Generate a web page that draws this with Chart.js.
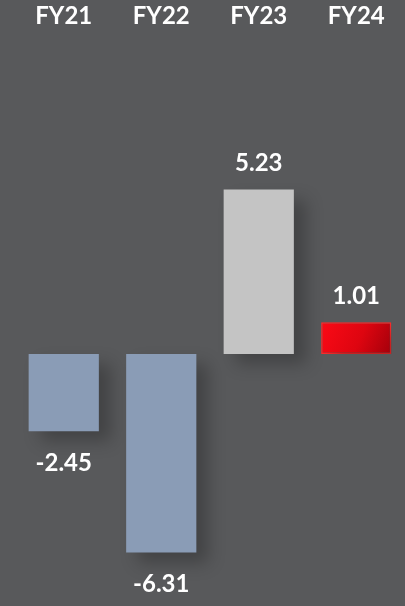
<!DOCTYPE html>
<html>
<head>
<meta charset="utf-8">
<script src="https://cdn.jsdelivr.net/npm/chart.js@4.4.1/dist/chart.umd.min.js"></script>
<style>
  html, body { margin: 0; padding: 0; background: #58595b; }
  #wrap { width: 405px; height: 606px; position: relative; }
</style>
</head>
<body>
<div id="wrap"><canvas id="chart"></canvas></div>
<script>
var years = ['FY21', 'FY22', 'FY23', 'FY24'];
var values = [-2.45, -6.31, 5.23, 1.01];
var valueLabels = ['-2.45', '-6.31', '5.23', '1.01'];

var ctx = document.getElementById('chart').getContext('2d');

function barColor(c) {
  var i = c.dataIndex;
  if (i == 2) return '#c4c4c4';
  if (i == 3) {
    var chart = c.chart;
    if (!chart.chartArea) return '#e8000e';
    var x = chart.scales.x.getPixelForValue(3);
    var y0 = chart.scales.y.getPixelForValue(0);
    var y1 = chart.scales.y.getPixelForValue(values[3]);
    var g = chart.ctx.createLinearGradient(x - 35, y1, x + 35, y0);
    g.addColorStop(0, '#fb0a16');
    g.addColorStop(0.55, '#de0510');
    g.addColorStop(1, '#a3000b');
    return g;
  }
  return '#8a9cb6';
}

// soft shadow behind the bars
var barShadow = {
  id: 'barShadow',
  beforeDatasetsDraw: function (chart) {
    var c = chart.ctx;
    c.save();
    c.shadowColor = 'rgba(0,0,0,0.25)';
    c.shadowBlur = 16;
    c.shadowOffsetX = 12;
    c.shadowOffsetY = 10;
  },
  afterDatasetsDraw: function (chart) {
    chart.ctx.restore();
  }
};

// value labels above / below the bars
var valueText = {
  id: 'valueText',
  afterDatasetsDraw: function (chart) {
    var c = chart.ctx;
    var meta = chart.getDatasetMeta(0);
    c.save();
    c.font = 'bold 24px Lato';
    c.fillStyle = '#ffffff';
    c.textAlign = 'center';
    c.textBaseline = 'middle';
    meta.data.forEach(function (bar, i) {
      var y = values[i] >= 0 ? bar.y - 26 : bar.y + 32;
      c.fillText(valueLabels[i], bar.x, y);
    });
    c.restore();
  }
};

new Chart(ctx, {
  type: 'bar',
  data: {
    labels: years,
    datasets: [{
      data: values,
      backgroundColor: barColor,
      borderColor: function (c) { return c.dataIndex == 3 ? '#ff2a2a' : 'rgba(0,0,0,0)'; },
      borderWidth: function (c) { return c.dataIndex == 3 ? 1.5 : 0; },
      borderSkipped: false,
      barPercentage: 0.72,
      categoryPercentage: 1
    }]
  },
  options: {
    responsive: true,
    maintainAspectRatio: false,
    animation: false,
    layout: { padding: { left: 15, right: 0, top: 0, bottom: 0 } },
    plugins: {
      legend: { display: false },
      tooltip: { enabled: false }
    },
    scales: {
      x: {
        position: 'top',
        grid: { display: false, drawTicks: false },
        border: { display: false },
        ticks: { color: '#ffffff', font: { family: 'Lato', size: 24, weight: 'bold' }, padding: 13 },
        afterFit: function (scale) { scale.height = 44; }
      },
      y: {
        display: false,
        min: -8.01,
        max: 9.86
      }
    }
  },
  plugins: [barShadow, valueText]
});
</script>
</body>
</html>
